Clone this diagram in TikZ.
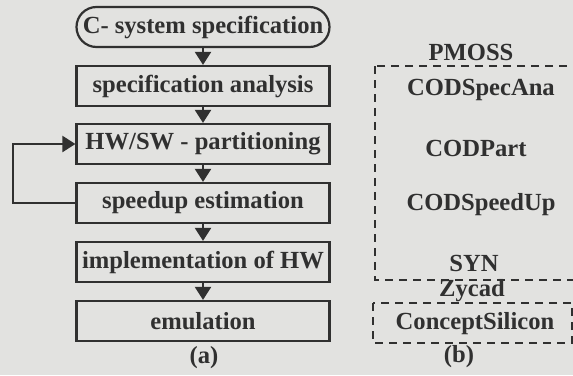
\documentclass[tikz,border=0pt]{standalone}
\usepackage{fontspec}
\setmainfont{Liberation Serif}
\usepackage{tikz}
\usetikzlibrary{arrows.meta,calc,positioning}
\definecolor{paper}{RGB}{226,226,224}
\definecolor{ink}{RGB}{48,48,48}

\begin{document}
\begin{tikzpicture}[x=0.5pt,y=-0.5pt]
	\tikzstyle{every node} = [font=\bfseries\fontsize{12.3}{14}\selectfont, text=ink]
	\tikzstyle{box} = [rectangle, draw=ink, line width=1.1pt, minimum width=126.5pt, minimum height=20pt, inner sep=0pt]
	\tikzstyle{flow} = [draw=ink, line width=1.1pt, -{Triangle[width=8pt,length=6.5pt]}]
	\tikzstyle{tool} = [draw=ink, line width=0.8pt, dash pattern=on 4pt off 3pt]
\fill[paper] (0,0) rectangle (573,375);
\useasboundingbox (0,0) rectangle (573,375);
% (a) design flow
\node[box, rounded corners=10pt] (cspec) at (203,27) {C- system specification};
\node[box] (ana) at (203,86) {specification analysis};
\node[box] (hwsw) at (203,144) {HW/SW - partitioning};
\node[box] (speed) at (203,203) {speedup estimation};
\node[box] (impl) at (203,262) {implementation of HW};
\node[box] (emu) at (203,321) {emulation};
	\path[flow] (cspec) -- (ana);
	\path[flow] (ana) -- (hwsw);
	\path[flow] (hwsw) -- (speed);
	\path[flow] (speed) -- (impl);
	\path[flow] (impl) -- (emu);
\coordinate (back) at (13,203);
	\path[flow] (speed.west) -- (back) |- (hwsw.west);
\node (capa) at (204,358) {(a)};
% (b) tools
\draw[tool] (375,66) rectangle (600,280);
\draw[tool] (373,303) rectangle (572,343);
\node (pmoss) at (471,52) {PMOSS};
\node (specana) at (481,90) {CODSpecAna};
\node (part) at (476,148) {CODPart};
\node (speedup) at (481,205) {CODSpeedUp};
\node (syn) at (474,263) {SYN};
\node (zycad) at (472,291) {Zycad};
\node (silicon) at (475,324) {ConceptSilicon};
\node (capb) at (459,357) {(b)};
\end{tikzpicture}
\end{document}
